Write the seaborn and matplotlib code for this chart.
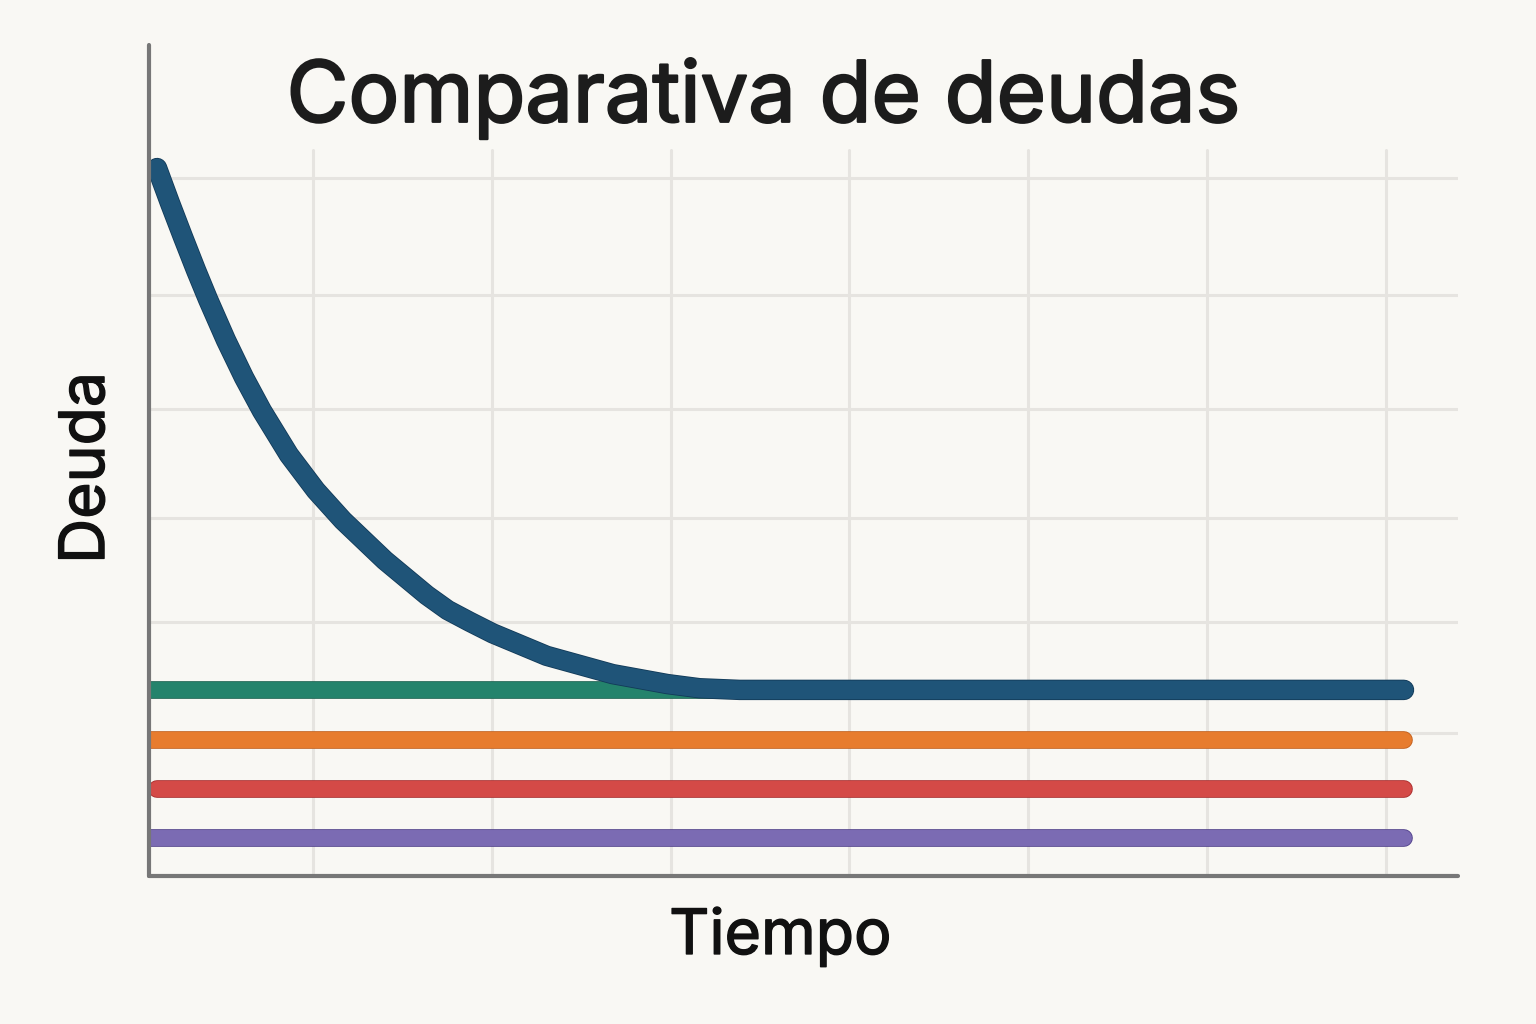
import matplotlib
matplotlib.use("Agg")
import matplotlib.pyplot as plt
import matplotlib.patheffects as pe
import pandas as pd
import seaborn as sns

# data
blue_x = [0.129, 0.201, 0.274, 0.347, 0.414, 0.514, 0.615, 0.715, 0.866, 1.017, 1.168,
          1.402, 1.637, 1.754, 1.877, 2.006, 2.307, 2.676, 2.983, 3.162, 3.386, 7.10]
blue_y = [85.2, 81.0, 76.9, 72.9, 69.4, 64.5, 60.0, 56.0, 50.7, 46.4, 42.8,
          38.0, 33.8, 32.0, 30.6, 29.2, 26.5, 24.3, 23.1, 22.6, 22.4, 22.4]

green_x = [0.08, 7.10]
green_y = [22.4, 22.4]
orange_x = [0.08, 7.10]
orange_y = [16.4, 16.4]
red_x = [0.13, 7.10]
red_y = [10.5, 10.5]
purple_x = [0.08, 7.10]
purple_y = [4.6, 4.6]

title = "Comparativa de deudas"
xlabel = "Tiempo"
ylabel = "Deuda"

bg = "#f9f8f4"

sns.set_theme(style="white")
plt.rcParams['font.family'] = ['Inter', 'DejaVu Sans']

fig = plt.figure(figsize=(15.36, 10.24), dpi=100, facecolor=bg)
ax = fig.add_axes([0.097, 0.1445, 0.852, 0.8115])
ax.set_facecolor(bg)

# grid
for gx in [1, 2, 3, 4, 5, 6, 7]:
    ax.axvline(gx, ymin=0, ymax=0.874, color="#e6e4e0", lw=2.2, zorder=0)
for gy in [17.2, 30.6, 43.1, 56.2, 69.9, 84.0]:
    ax.axhline(gy, color="#e6e4e0", lw=2.2, zorder=0)

def draw(xs, ys, color, edge, lw, z):
    df = pd.DataFrame({"x": xs, "y": ys})
    sns.lineplot(data=df, x="x", y="y", ax=ax, color=color, lw=lw,
                 sort=False, estimator=None, zorder=z,
                 solid_capstyle="round", solid_joinstyle="round",
                 path_effects=[pe.Stroke(linewidth=lw + 1.2, foreground=edge), pe.Normal()])

draw(purple_x, purple_y, "#7b6bb3", "#4f3f8a", 11.5, 2)
draw(red_x, red_y, "#d44a47", "#a82a2a", 11.5, 2)
draw(orange_x, orange_y, "#e77c2e", "#c25e1a", 11.5, 2)
draw(green_x, green_y, "#24836c", "#145e4c", 11.5, 2)
draw(blue_x, blue_y, "#1f5478", "#123a58", 13.5, 3)

ax.set_xlim(0.084, 7.40)
ax.set_ylim(0, 100)
ax.set_xticks([])
ax.set_yticks([])
ax.set_xlabel("")
ax.set_ylabel("")

for s in ["top", "right"]:
    ax.spines[s].set_visible(False)
for s in ["left", "bottom"]:
    ax.spines[s].set_color("#777777")
    ax.spines[s].set_linewidth(3)
    ax.spines[s].set_capstyle("round")
    ax.spines[s].set_zorder(5)

bold = [pe.Stroke(linewidth=1.6, foreground="#1c1c1c"), pe.Normal()]
fig.text(0.497, 0.904, title, ha="center", va="center", fontsize=61,
         color="#1c1c1c", path_effects=bold)
fig.text(0.508, 0.085, xlabel, ha="center", va="center", fontsize=45,
         color="#111111", path_effects=[pe.Stroke(linewidth=1.0, foreground="#111111"), pe.Normal()])
fig.text(0.057, 0.543, ylabel, ha="center", va="center", fontsize=45,
         color="#111111", rotation=90,
         path_effects=[pe.Stroke(linewidth=1.0, foreground="#111111"), pe.Normal()])

fig.savefig("out.png", dpi=100, facecolor=bg)
